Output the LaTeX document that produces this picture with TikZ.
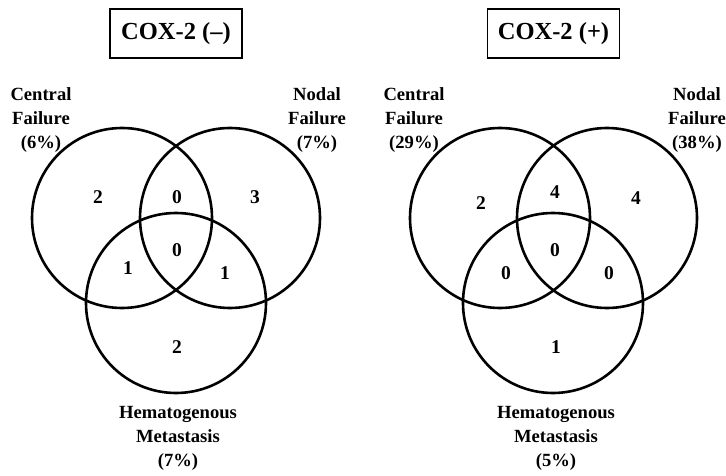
\documentclass[tikz,border=0pt]{standalone}
\usepackage{fontspec}
\setmainfont{Liberation Serif}
\usetikzlibrary{positioning}
\tikzset{venn/.style={circle,draw=black,line width=2.6pt,minimum size=180pt,inner sep=0pt}, title/.style={draw=black,line width=1.6pt,minimum width=132pt,minimum height=49pt,font=\fontsize{24.5}{28}\selectfont\bfseries}, setlabel/.style={align=center,inner sep=0pt,font=\fontsize{18.6}{24}\selectfont\bfseries}, count/.style={inner sep=0pt,font=\fontsize{19.5}{22}\selectfont\bfseries}}

\begin{document}
\begin{tikzpicture}[x=1pt,y=-1pt]
\useasboundingbox (0,0) rectangle (726,476);
% COX-2 negative
\node[title] (negtitle) at (176,33.5) {COX-2 (--)};
\node[venn] (negC) at (122,218) {};\node[venn] (negN) at (230,218) {};\node[venn] (negH) at (176,303) {};
\node[setlabel] (negClab) at (41,120) {Central\\Failure\\(6\%)};\node[setlabel] (negNlab) at (317,120) {Nodal\\Failure\\(7\%)};\node[setlabel] (negHlab) at (178,438) {Hematogenous\\Metastasis\\(7\%)};
\node[count] at (98,197) {2};\node[count] at (177,197) {0};\node[count] at (255,197) {3};\node[count] at (177,250) {0};
\node[count] at (128,268) {1};\node[count] at (225,273) {1};\node[count] at (177,347) {2};
% COX-2 positive
\node[title] (postitle) at (553.5,33.5) {COX-2 (+)};
\node[venn] (posC) at (500,218) {};\node[venn] (posN) at (607,218) {};\node[venn] (posH) at (553,303) {};
\node[setlabel] (posClab) at (414,120) {Central\\Failure\\(29\%)};\node[setlabel] (posNlab) at (697,120) {Nodal\\Failure\\(38\%)};\node[setlabel] (posHlab) at (556,438) {Hematogenous\\Metastasis\\(5\%)};
\node[count] at (481,203) {2};\node[count] at (555,192) {4};\node[count] at (636,198) {4};\node[count] at (555,250) {0};
\node[count] at (506,273) {0};\node[count] at (609,273) {0};\node[count] at (556,347) {1};
\end{tikzpicture}
\end{document}
